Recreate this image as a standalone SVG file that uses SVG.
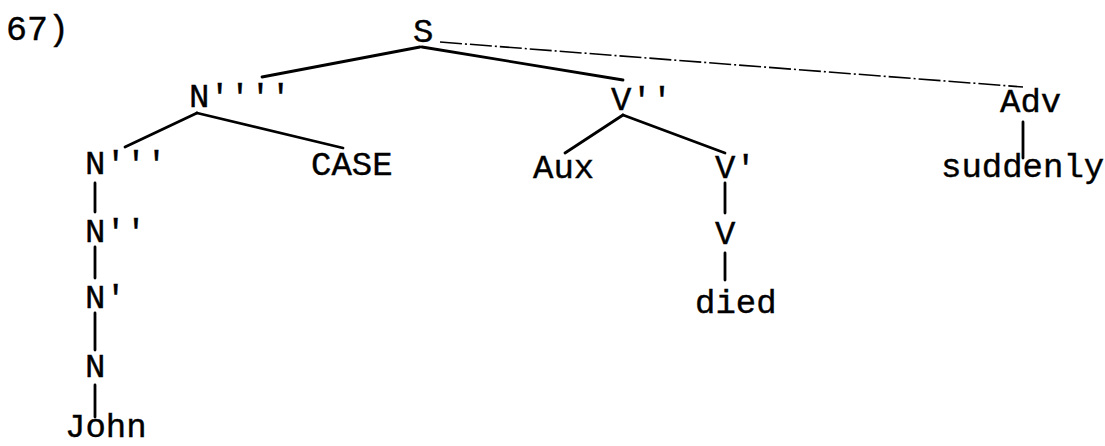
<svg xmlns="http://www.w3.org/2000/svg" width="1105" height="446" viewBox="0 0 1105 446">
<style>
text { font-family: "Liberation Mono", "Courier New", monospace; font-size: 34px; fill: #000; stroke: #000; stroke-width: 0.4; }
.e { stroke: #000; stroke-width: 2.8; stroke-linecap: round; fill: none; }
.d { stroke: #000; stroke-width: 1.6; fill: none; stroke-dasharray: 22 3 2 3; }
</style>
<rect width="1105" height="446" fill="#fff"/>
<text id="label" x="6" y="40" style="font-size:35px">67)</text>
<g id="connectors">
<line class="e" x1="420" y1="47" x2="262" y2="77"/>
<line class="e" x1="422" y1="47" x2="623" y2="80"/>
<line class="d" x1="440" y1="42" x2="1023" y2="87"/>
<line class="e" x1="197" y1="113" x2="125" y2="147"/>
<line class="e" x1="197" y1="113" x2="343" y2="148"/>
<line class="e" x1="623" y1="115" x2="565" y2="153"/>
<line class="e" x1="623" y1="115" x2="725" y2="153"/>
<line class="e" x1="95" y1="183" x2="95" y2="212"/>
<line class="e" x1="95" y1="247" x2="95" y2="278"/>
<line class="e" x1="95" y1="313" x2="95" y2="350"/>
<line class="e" x1="95" y1="385" x2="95" y2="417"/>
<line class="e" x1="725" y1="183" x2="725" y2="213"/>
<line class="e" x1="725" y1="253" x2="725" y2="280"/>
<line class="e" x1="1023" y1="122" x2="1023" y2="158"/>
</g>
<g id="n-S"><text x="413" y="42">S</text></g>
<g id="n-N4"><text x="189" y="107">N''''</text></g>
<g id="n-V2"><text x="611" y="110">V''</text></g>
<g id="n-Adv"><text x="1000" y="112">Adv</text></g>
<g id="n-N3"><text x="85" y="174">N'''</text></g>
<g id="n-CASE"><text x="311" y="175">CASE</text></g>
<g id="n-Aux"><text x="533" y="178">Aux</text></g>
<g id="n-V1"><text x="715" y="178">V'</text></g>
<g id="n-suddenly"><text x="941" y="177">suddenly</text></g>
<g id="n-N2"><text x="85" y="242">N''</text></g>
<g id="n-V"><text x="715" y="244">V</text></g>
<g id="n-N1"><text x="85" y="308">N'</text></g>
<g id="n-died"><text x="695" y="313">died</text></g>
<g id="n-N"><text x="85" y="377">N</text></g>
<g id="n-John"><text x="65" y="437">John</text></g>
</svg>
